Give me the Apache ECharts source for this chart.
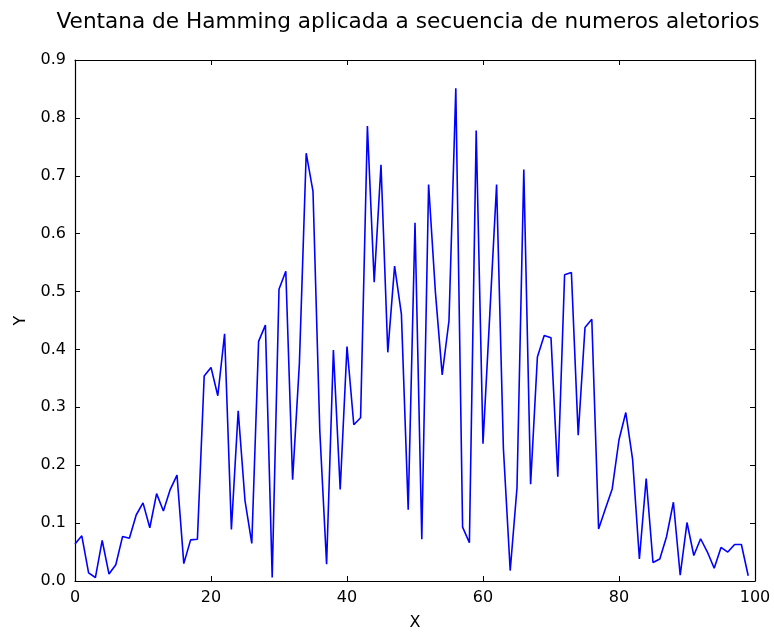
<!DOCTYPE html>
<html>
<head>
<meta charset="utf-8">
<script src="https://cdn.jsdelivr.net/npm/echarts@6/dist/echarts.min.js"></script>
<style>html,body{margin:0;padding:0;background:#fff}#c{width:774px;height:636px}</style>
</head>
<body>
<div id="c"></div>
<script>
const titleText = "Ventana de Hamming aplicada a secuencia de numeros aletorios";
const xLabel = "X";
const yLabel = "Y";
const xTicks = [0, 20, 40, 60, 80, 100];
const yTicks = [0.0, 0.1, 0.2, 0.3, 0.4, 0.5, 0.6, 0.7, 0.8, 0.9];
const yValues = [
  0.064, 0.078, 0.014, 0.006, 0.070, 0.012, 0.028, 0.077, 0.074, 0.114,
  0.135, 0.092, 0.151, 0.121, 0.158, 0.183, 0.030, 0.071, 0.072, 0.354,
  0.369, 0.320, 0.427, 0.089, 0.294, 0.139, 0.065, 0.414, 0.442, 0.006,
  0.504, 0.535, 0.175, 0.376, 0.739, 0.673, 0.259, 0.029, 0.399, 0.158,
  0.405, 0.270, 0.282, 0.786, 0.516, 0.719, 0.395, 0.544, 0.461, 0.123,
  0.619, 0.072, 0.685, 0.499, 0.356, 0.450, 0.851, 0.093, 0.066, 0.778,
  0.237, 0.461, 0.685, 0.229, 0.018, 0.161, 0.711, 0.167, 0.387, 0.424,
  0.420, 0.180, 0.529, 0.533, 0.252, 0.438, 0.452, 0.090, 0.125, 0.159,
  0.244, 0.291, 0.210, 0.038, 0.177, 0.032, 0.038, 0.077, 0.136, 0.010,
  0.101, 0.044, 0.073, 0.050, 0.022, 0.058, 0.050, 0.063, 0.063, 0.009
];
const xValues = yValues.map((_, i) => i);
const seriesData = xValues.map((x, i) => [x, yValues[i]]);

const font = "DejaVu Sans";
const chart = echarts.init(document.getElementById('c'), null, {renderer: 'canvas'});
const tickCommon = {inside: true, length: 5, lineStyle: {color: '#000', width: 1}};
const lineCommon = {show: true, onZero: false, lineStyle: {color: '#000', width: 1.2}};
const baseX = {
  type: 'value', min: xTicks[0], max: xTicks[xTicks.length - 1], interval: 20,
  splitLine: {show: false}, axisLine: lineCommon, axisTick: tickCommon
};
const baseY = {
  type: 'value', min: yTicks[0], max: yTicks[yTicks.length - 1], interval: 0.1,
  splitLine: {show: false}, axisLine: lineCommon, axisTick: tickCommon
};
chart.setOption({
  animation: false,
  backgroundColor: '#fff',
  title: {
    text: titleText, left: 403, top: 6, textAlign: 'center',
    textStyle: {fontFamily: font, fontSize: 21.6, fontWeight: 'normal', color: '#000'}
  },
  grid: {left: 75, right: 19, top: 60, bottom: 53, containLabel: false},
  xAxis: [
    Object.assign({}, baseX, {
      position: 'bottom',
      name: xLabel, nameLocation: 'middle', nameGap: 34,
      nameTextStyle: {fontFamily: font, fontSize: 16, color: '#000'},
      axisLabel: {fontFamily: font, fontSize: 16, color: '#000', margin: 9}
    }),
    Object.assign({}, baseX, {position: 'top', axisLabel: {show: false}})
  ],
  yAxis: [
    Object.assign({}, baseY, {
      position: 'left',
      name: yLabel, nameLocation: 'middle', nameGap: 46, nameRotate: 90,
      nameTextStyle: {fontFamily: font, fontSize: 16, color: '#000'},
      axisLabel: {fontFamily: font, fontSize: 16, color: '#000', margin: 9,
        formatter: v => v.toFixed(1)}
    }),
    Object.assign({}, baseY, {position: 'right', axisLabel: {show: false}})
  ],
  series: [{
    type: 'line', data: seriesData, xAxisIndex: 0, yAxisIndex: 0,
    showSymbol: false, symbol: 'none',
    lineStyle: {color: '#0000ff', width: 1.6},
    itemStyle: {color: '#0000ff'}
  }]
});
</script>
</body>
</html>
